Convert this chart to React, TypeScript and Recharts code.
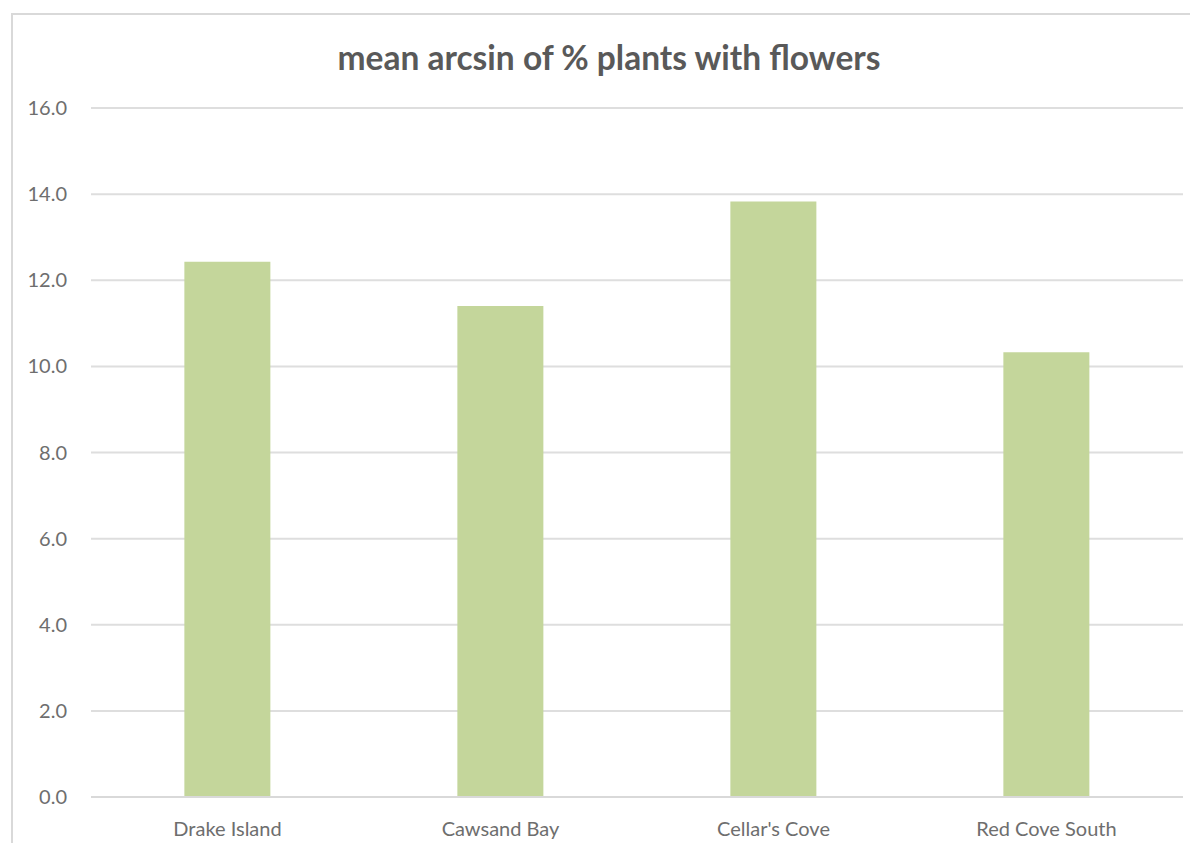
import { BarChart, Bar, XAxis, YAxis, CartesianGrid } from "recharts";

const sites = ["Drake Island", "Cawsand Bay", "Cellar's Cove", "Red Cove South"];
const meanArcsin = [12.43, 11.4, 13.83, 10.33];
const yTicks = [0, 2, 4, 6, 8, 10, 12, 14, 16];

const data = sites.map((site, i) => ({ site, value: meanArcsin[i] }));

const font = "Lato, 'Open Sans', sans-serif";

export default function App() {
  return (
    <div
      style={{
        position: "relative",
        margin: -8,
        width: 1198,
        height: 851,
        background: "#fff",
        overflow: "hidden",
        fontFamily: font,
      }}
    >
      {/* chart frame: only left and top edges show in the crop */}
      <div
        style={{
          position: "absolute",
          left: 11,
          top: 13,
          width: 1200,
          height: 900,
          borderLeft: "2px solid #d9d9d9",
          borderTop: "2px solid #d9d9d9",
        }}
      />
      <div
        style={{
          position: "absolute",
          left: 0,
          width: 1218,
          top: 41,
          textAlign: "center",
          fontSize: 33.5,
          lineHeight: 1,
          fontWeight: 700,
          color: "#595959",
        }}
      >
        mean arcsin of % plants with flowers
      </div>
      <div style={{ position: "absolute", left: 0, top: 0 }}>
        <BarChart
          width={1198}
          height={851}
          data={data}
          margin={{ top: 108, right: 15, left: 0, bottom: 0 }}
          barCategoryGap="34.2%"
        >
          <CartesianGrid vertical={false} stroke="#dedede" strokeWidth={2} />
          <XAxis
            dataKey="site"
            height={54}
            tickLine={false}
            axisLine={{ stroke: "#d9d9d9", strokeWidth: 2 }}
            tickSize={0}
            tickMargin={25}
            tick={{ fill: "#6e6e6e", fontSize: 20, fontFamily: font }}
          />
          <YAxis
            width={91}
            domain={[0, 16]}
            ticks={yTicks}
            tickFormatter={(v: number) => v.toFixed(1)}
            axisLine={false}
            tickLine={false}
            tickSize={0}
            tickMargin={24}
            tick={{ fill: "#6e6e6e", fontSize: 20, fontFamily: font }}
          />
          <Bar dataKey="value" fill="#c4d69b" isAnimationActive={false} />
        </BarChart>
      </div>
    </div>
  );
}
